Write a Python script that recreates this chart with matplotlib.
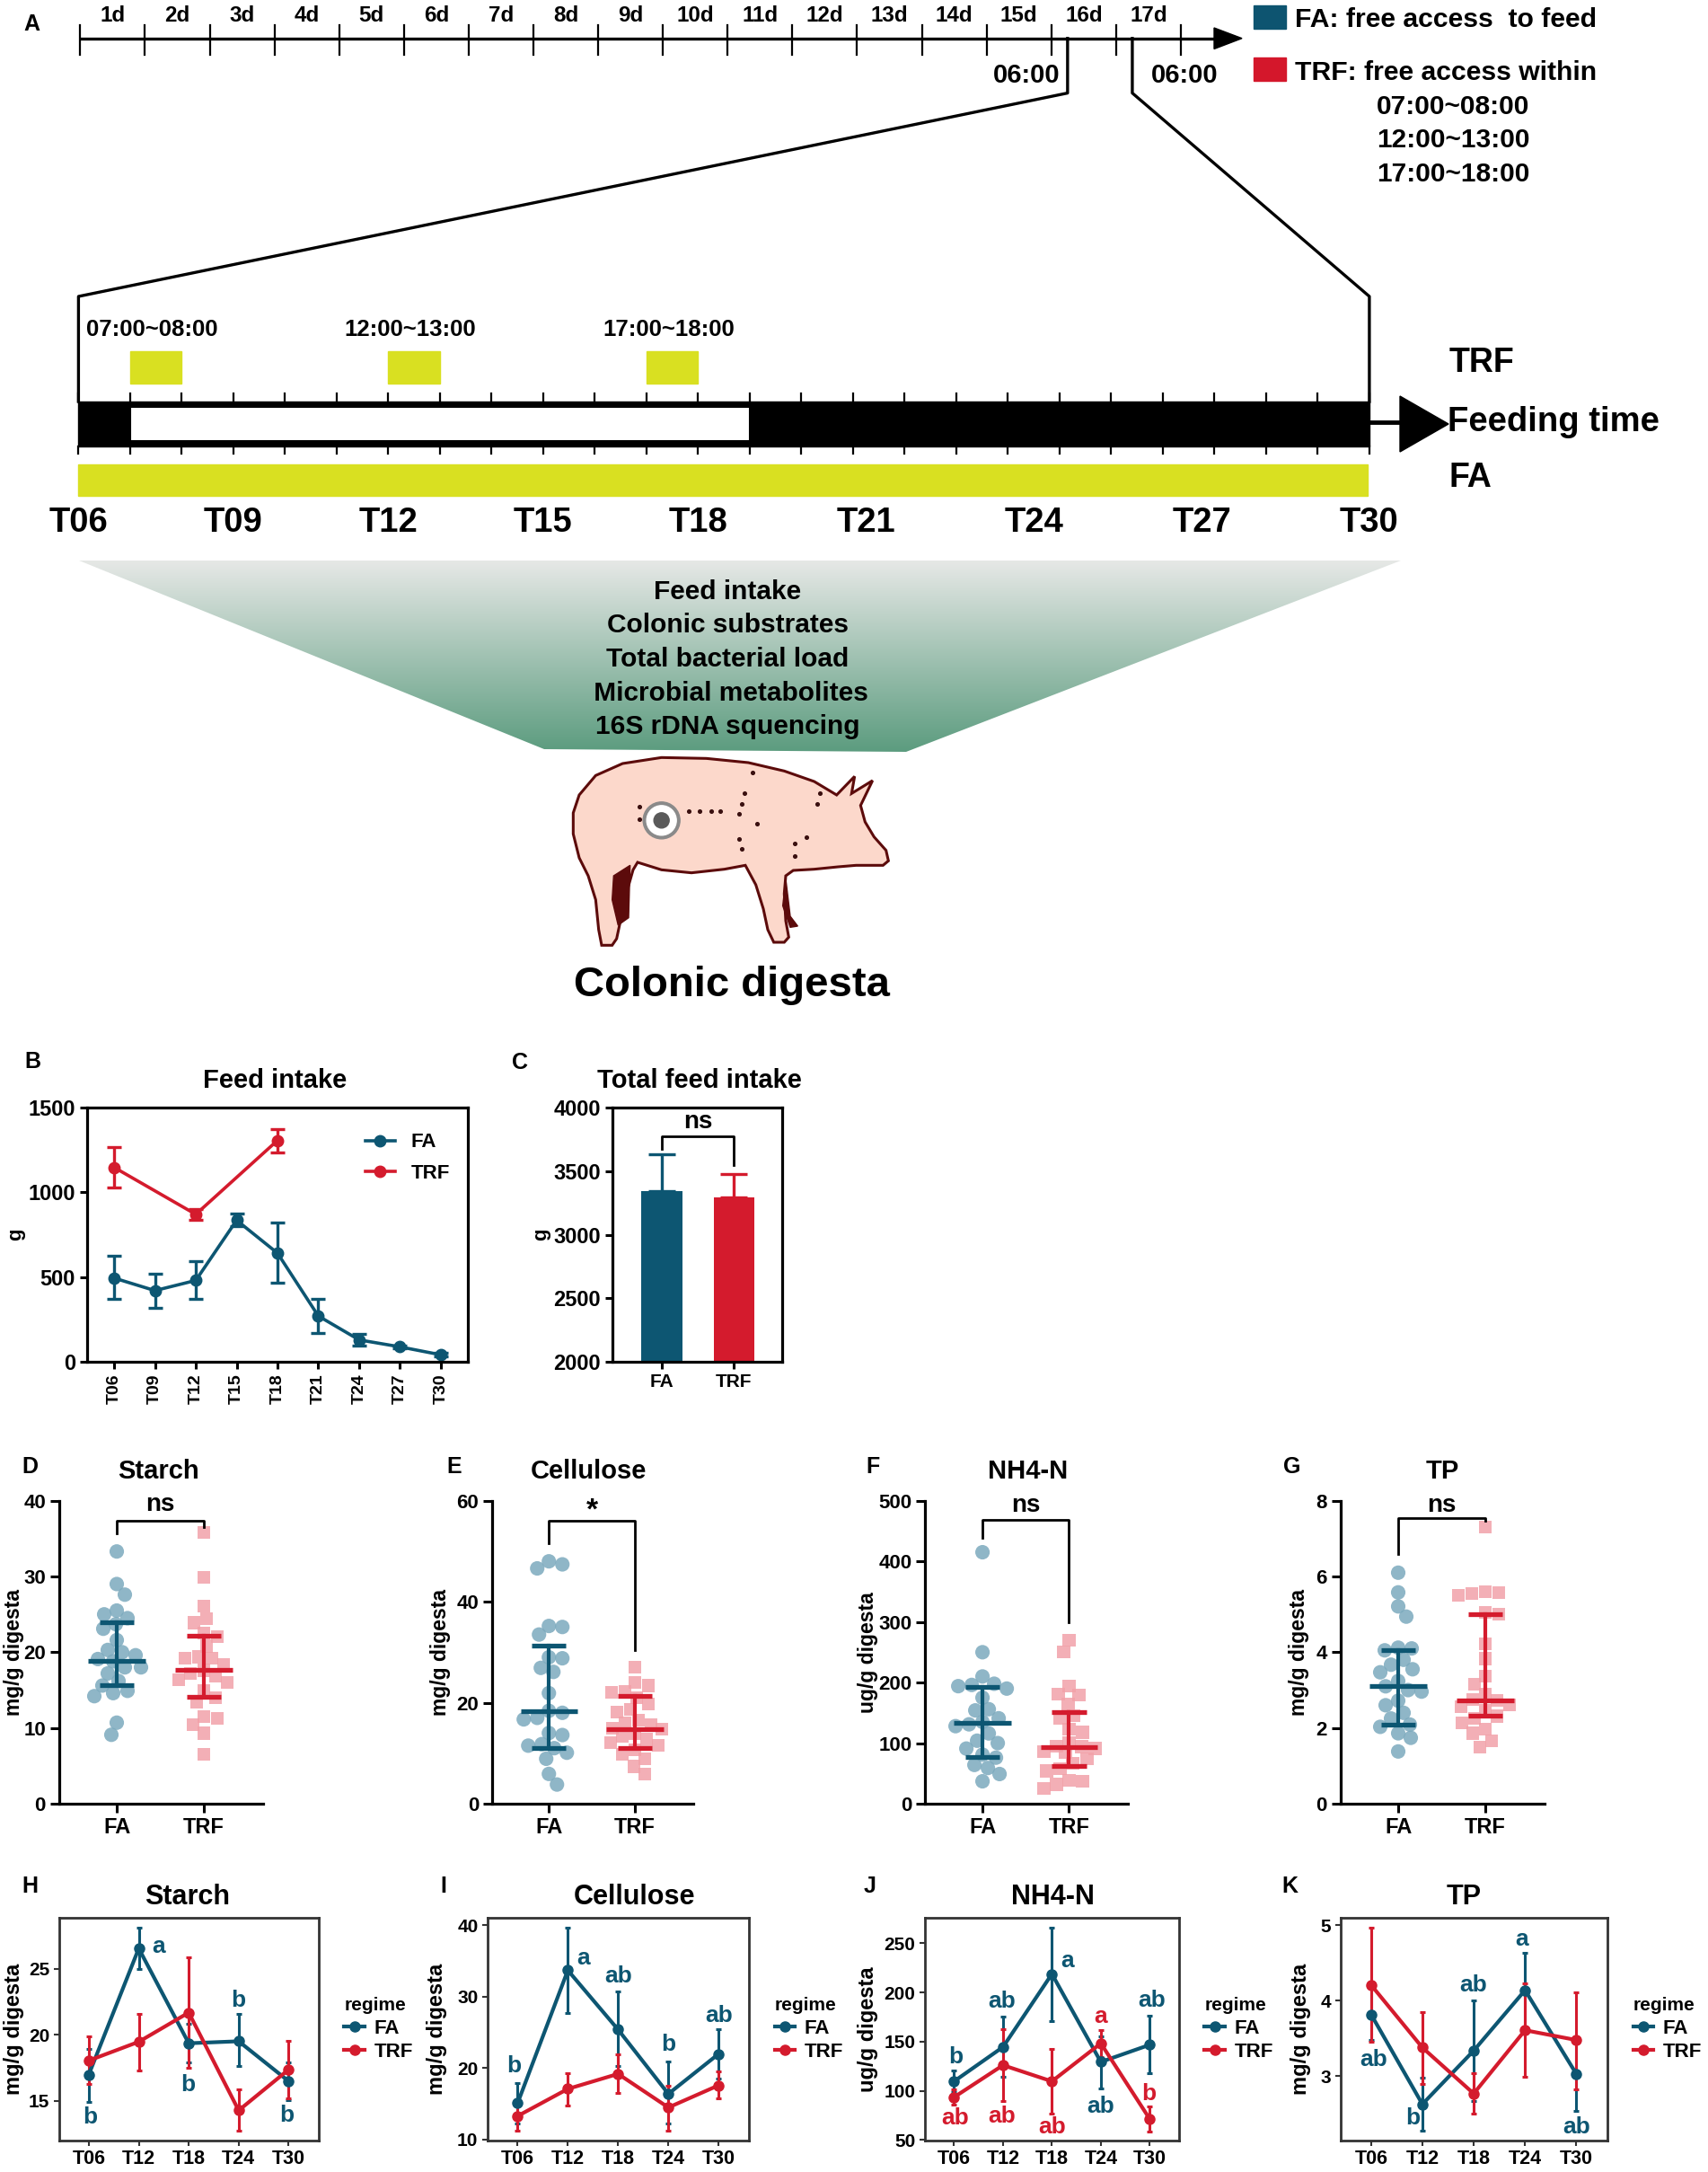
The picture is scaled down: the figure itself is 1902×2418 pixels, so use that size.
import numpy as np
import matplotlib
matplotlib.use("Agg")
import matplotlib.pyplot as plt
from matplotlib.patches import Rectangle, Polygon, Circle
from matplotlib.lines import Line2D

plt.rcParams['font.family'] = ['Liberation Sans', 'DejaVu Sans']
plt.rcParams['font.weight'] = 'bold'
plt.rcParams['axes.labelweight'] = 'bold'
plt.rcParams['axes.titleweight'] = 'bold'

# ---------------- data ----------------
FA_C = '#0d5672'
TRF_C = '#d41b2d'
FA_LIGHT = '#7ba9bd'
TRF_LIGHT = '#f2a1a9'
YEL = '#d9e021'

day_labels = [f'{d}d' for d in range(1, 18)]
trf_windows = [(7, 8), (12, 13), (17, 18)]
light_period = (7, 19)
t_label_hours = [6, 9, 12, 15, 18, 21, 24, 27, 30]
measures = ['Feed intake', 'Colonic substrates', 'Total bacterial load',
            ' Microbial metabolites', '16S rDNA squencing']

# B: feed intake
b_times = ['T06', 'T09', 'T12', 'T15', 'T18', 'T21', 'T24', 'T27', 'T30']
b_fa = [494, 420, 480, 835, 641, 270, 129, 88, 41]
b_fa_lo = [371, 318, 371, 800, 468, 168, 97, 78, 31]
b_fa_hi = [623, 522, 596, 874, 819, 371, 164, 98, 51]
b_trf = [1147, np.nan, 870, np.nan, 1306, np.nan, np.nan, np.nan, np.nan]
b_trf_lo = [1027, np.nan, 835, np.nan, 1237, np.nan, np.nan, np.nan, np.nan]
b_trf_hi = [1269, np.nan, 900, np.nan, 1373, np.nan, np.nan, np.nan, np.nan]

# C: total feed intake
c_groups = ['FA', 'TRF']
c_mean = [3341, 3292]
c_err = [294, 186]

# D-G scatter data
d_fa = [33.3, 29.0, 27.6, 25.5, 25.0, 24.5, 23.7, 23.1, 21.6, 20.3, 20.0, 19.6,
        19.1, 18.8, 18.0, 18.0, 17.2, 16.2, 15.6, 14.9, 14.6, 14.2, 10.7, 9.1]
d_trf = [35.8, 29.9, 26.1, 24.4, 23.9, 22.5, 22.1, 20.8, 19.4, 19.2, 19.2, 18.4,
         17.6, 17.2, 16.8, 16.4, 16.0, 14.9, 14.0, 13.4, 11.5, 11.3, 10.4, 9.3, 6.5]
e_fa = [48.0, 47.4, 46.6, 35.2, 35.0, 33.5, 29.0, 28.8, 26.9, 26.1, 21.9, 18.4,
        18.0, 17.0, 16.7, 14.0, 13.6, 11.8, 11.5, 11.0, 10.1, 8.9, 5.9, 3.8]
e_trf = [27.0, 24.0, 23.4, 22.2, 22.0, 21.0, 19.8, 18.7, 18.1, 16.6, 16.0, 15.7,
         15.0, 14.8, 13.9, 13.3, 12.7, 12.1, 11.5, 10.7, 9.8, 8.9, 7.4, 5.9]
f_fa = [415, 250, 210, 198, 196, 194, 190, 175, 156, 154, 141, 135, 131, 128,
        116, 104, 100, 91, 81, 76, 64, 59, 49, 37]
f_trf = [270, 250, 194, 181, 179, 165, 145, 141, 123, 118, 101, 95, 94, 91, 86,
         85, 74, 67, 58, 54, 39, 37, 32, 25]
g_fa = [6.1, 5.58, 5.21, 4.94, 4.12, 4.10, 4.05, 3.8, 3.67, 3.55, 3.47, 3.24,
        3.1, 3.0, 2.96, 2.72, 2.6, 2.4, 2.25, 2.09, 2.03, 1.86, 1.74, 1.38]
g_trf = [7.3, 5.6, 5.57, 5.55, 5.5, 5.05, 5.0, 4.22, 3.83, 3.36, 3.16, 2.9, 2.76,
         2.72, 2.6, 2.57, 2.47, 2.31, 2.25, 2.13, 1.97, 1.86, 1.66, 1.5]
# median, q1, q3
d_stats = [(18.8, 15.7, 24.0), (17.7, 14.1, 22.2)]
e_stats = [(18.4, 11.1, 31.3), (14.8, 11.1, 21.3)]
f_stats = [(133, 77.5, 192.5), (94, 62, 151.5)]
g_stats = [(3.1, 2.08, 4.06), (2.72, 2.33, 5.0)]
# significance brackets: (left leg bottom, top, right leg bottom, label, label y)
d_sig = (35.7, 37.3, 36.5, 'ns', 39.5)
e_sig = (51.5, 56.0, 30.4, '*', 58.0)
f_sig = (439, 468, 300, 'ns', 492)
g_sig = (6.6, 7.54, 7.46, 'ns', 7.88)
c_sig = (3678, 3772, 3548, 'ns', 3889)

# H-K time courses
hk_times = ['T06', 'T12', 'T18', 'T24', 'T30']
h_fa = [16.99, 26.53, 19.36, 19.51, 16.49]
h_fa_lo = [14.95, 24.95, 17.93, 17.62, 15.07]
h_fa_hi = [18.95, 28.09, 20.82, 21.55, 17.93]
h_trf = [18.05, 19.47, 21.68, 14.28, 17.37]
h_trf_lo = [16.26, 17.32, 17.48, 12.74, 15.18]
h_trf_hi = [19.88, 21.6, 25.84, 15.86, 19.56]

i_fa = [15.1, 33.7, 25.4, 16.4, 22.0]
i_fa_lo = [12.3, 27.7, 20.3, 12.2, 18.6]
i_fa_hi = [17.9, 39.7, 30.7, 20.9, 25.4]
i_trf = [13.3, 17.1, 19.2, 14.5, 17.6]
i_trf_lo = [11.3, 14.8, 16.5, 11.2, 15.8]
i_trf_hi = [14.9, 19.3, 21.9, 17.6, 19.5]

j_fa = [109.6, 144.5, 218.7, 129.3, 146.7]
j_fa_lo = [98.6, 114.1, 171.0, 102.6, 117.8]
j_fa_hi = [120.8, 175.5, 265.8, 155.2, 176.4]
j_trf = [93.5, 126.0, 109.6, 148.2, 71.3]
j_trf_lo = [85.9, 89.5, 76.7, 134.5, 58.5]
j_trf_hi = [101.1, 162.8, 142.7, 161.9, 84.3]

k_fa = [3.82, 2.63, 3.34, 4.14, 3.03]
k_fa_lo = [3.48, 2.28, 2.67, 3.63, 2.54]
k_fa_hi = [4.19, 2.98, 4.01, 4.64, 3.51]
k_trf = [4.21, 3.38, 2.77, 3.61, 3.48]
k_trf_lo = [3.46, 2.90, 2.50, 2.99, 2.83]
k_trf_hi = [4.97, 3.85, 3.04, 4.23, 4.11]

# letters: (regime, x position, y position, text)
h_letters = [('FA', 2.4, 26.7, 'a'), ('FA', 1.02, 13.8, 'b'), ('FA', 2.98, 16.2, 'b'),
             ('FA', 4.0, 22.6, 'b'), ('FA', 4.97, 13.9, 'b')]
i_letters = [('FA', 0.93, 20.3, 'b'), ('FA', 2.3, 35.4, 'a'), ('FA', 3.0, 32.9, 'ab'),
             ('FA', 4.0, 23.3, 'b'), ('FA', 5.0, 27.4, 'ab')]
j_letters = [('FA', 1.03, 134.5, 'b'), ('FA', 1.98, 190.7, 'ab'), ('FA', 3.31, 231.8, 'a'),
             ('FA', 4.0, 84.3, 'ab'), ('FA', 5.05, 192.2, 'ab'),
             ('TRF', 1.03, 72.2, 'ab'), ('TRF', 1.98, 73.7, 'ab'), ('TRF', 3.0, 63.1, 'ab'),
             ('TRF', 4.0, 175.5, 'a'), ('TRF', 4.99, 96.5, 'b')]
k_letters = [('FA', 1.05, 3.22, 'ab'), ('FA', 1.81, 2.45, 'b'), ('FA', 2.99, 4.21, 'ab'),
             ('FA', 3.94, 4.82, 'a'), ('FA', 5.0, 2.33, 'ab')]

# ---------------- figure ----------------
W, H = 1902, 2418
fig = plt.figure(figsize=(W / 100, H / 100), dpi=100)
fig.patch.set_facecolor('white')

ax0 = fig.add_axes([0, 0, 1, 1])
ax0.set_xlim(0, W)
ax0.set_ylim(H, 0)
ax0.axis('off')


def add_ax(l, t, r, b):
    return fig.add_axes([l / W, 1 - b / H, (r - l) / W, (b - t) / H])


def T(x, y, s, fs, ha='center', va='center', color='black', **kw):
    ax0.text(x, y, s, fontsize=fs, ha=ha, va=va, color=color, fontweight='bold', **kw)


def set_ylab(ax, text, fs, x_px, l, r):
    ax.set_ylabel(text, fontsize=fs)
    ax.yaxis.set_label_coords((x_px - l) / (r - l), 0.5)
    ax.yaxis.label.set_verticalalignment('center')


# ---------------- Panel A ----------------
T(35, 27, 'A', 18)
day0, dstep, ly = 89.3, 72.1, 42.7
ticks = [day0 + dstep * k for k in range(len(day_labels) + 1)]
ax0.plot([ticks[0], 1356], [ly, ly], color='black', lw=2.4, solid_capstyle='butt')
ax0.add_patch(Polygon([(1352, 31), (1383, ly), (1352, 54.5)], closed=True, color='black'))
for tx in ticks:
    ax0.plot([tx, tx], [28, 61], color='black', lw=1.6)
for k, lab in enumerate(day_labels):
    T((ticks[k] + ticks[k + 1]) / 2, 18, lab, 17.5)

hx_step = 57.5


def hx(h):
    return 87.4 + (h - 6) * hx_step


xl = ticks[15] + dstep * 6 / 24
xr = ticks[16] + dstep * 6 / 24
bar_top, bar_bot = 447, 497
ax0.plot([xl, xl, hx(6), hx(6)], [ly, 103.6, 330, bar_top], color='black', lw=2.4)
ax0.plot([xr, xr, hx(31), hx(31)], [ly, 103.6, 330, bar_top], color='black', lw=2.4)
T(xl - 46, 84, '06:00', 21)
T(xr + 58, 84, '06:00', 21)

# legend in A
ax0.add_patch(Rectangle((1396, 6), 36, 26, color='#0d5470'))
T(1442, 22, 'FA: free access  to feed', 21.7, ha='left')
ax0.add_patch(Rectangle((1396, 64), 36, 26, color='#d4172b'))
T(1442, 81, 'TRF: free access within', 21.7, ha='left')
for (a, b), yy in zip(trf_windows, [118.6, 155.5, 193.7]):
    T(1618, yy, f'{a:02d}:00~{b:02d}:00', 21.5)

# detailed feeding time bar
ax0.add_patch(Rectangle((hx(6), bar_top), hx(31) - hx(6), bar_bot - bar_top, color='black'))
ax0.add_patch(Rectangle((hx(light_period[0]), 453), hx(light_period[1]) - hx(light_period[0]), 38,
                        facecolor='white', edgecolor='black', lw=1.5))
for h in range(6, 32):
    ax0.plot([hx(h), hx(h)], [438, bar_top], color='black', lw=1.6)
    ax0.plot([hx(h), hx(h)], [bar_bot, 505], color='black', lw=1.6)
ax0.plot([hx(31), 1562], [470, 470], color='black', lw=3.5)
ax0.add_patch(Polygon([(1559, 441), (1613, 472), (1559, 503)], closed=True, color='black'))
for a, b in trf_windows:
    ax0.add_patch(Rectangle((hx(a), 391), hx(b) - hx(a), 36, color=YEL))
    T((hx(a) + hx(b)) / 2 - 4, 367, f'{a:02d}:00~{b:02d}:00', 18.5)
ax0.add_patch(Rectangle((hx(6), 517), hx(31) - hx(6) - 2, 35, color=YEL))
T(1614, 404, 'TRF', 27, ha='left')
T(1612, 470, 'Feeding time', 27.5, ha='left')
T(1614, 532, 'FA', 27, ha='left')
for h in t_label_hours:
    xx = np.interp(h, [6, 18, 30], [hx(6), hx(18), hx(31)])
    T(xx, 582, f'T{h:02d}', 27.5)

# gradient fan
fan = Polygon([(88, 624), (1560, 624), (1009, 837), (606, 834)], closed=True,
              facecolor='none', edgecolor='none')
ax0.add_patch(fan)
c_top = np.array(matplotlib.colors.to_rgb('#e6e8e6'))
c_bot = np.array(matplotlib.colors.to_rgb('#5c9c7f'))
tt = np.linspace(0, 1, 256)[:, None, None]
grad = c_top[None, None, :] * (1 - tt) + c_bot[None, None, :] * tt
im = ax0.imshow(grad, extent=[88, 1560, 837, 624], aspect='auto', origin='upper',
                interpolation='bilinear', zorder=1)
im.set_clip_path(fan)
for k, m in enumerate(measures):
    T(810, 659 + 37.5 * k, m, 21.5, zorder=3)


# pig (illustration)
def pz(pts):
    return [(620 + x / 3, 835 + y / 3) for x, y in pts]


pig_outline = [(75, 150), (130, 85), (220, 45), (350, 25), (500, 28), (640, 42), (760, 70),
               (860, 105), (935, 150), (995, 88), (985, 145), (1055, 102), (1015, 185),
               (1030, 240), (1060, 290), (1100, 335), (1108, 370), (1090, 385), (1050, 385),
               (1000, 385), (940, 390), (860, 398), (790, 402), (765, 420), (760, 480),
               (765, 570), (775, 625), (760, 642), (725, 642), (705, 600), (690, 530),
               (665, 450), (630, 385), (560, 398), (450, 410), (350, 400), (270, 375),
               (255, 400), (235, 470), (215, 560), (200, 630), (185, 652), (150, 652),
               (140, 600), (130, 500), (105, 420), (75, 360), (55, 280), (55, 210)]
ax0.add_patch(Polygon(pz(pig_outline), closed=True, facecolor='#fcd8cb', edgecolor='#5c0b0b',
                      lw=2.2, zorder=2))
ax0.add_patch(Polygon(pz([(190, 420), (245, 385), (240, 560), (205, 585), (185, 500)]),
                      closed=True, color='#5c0b0b', zorder=3))
ax0.add_patch(Polygon(pz([(765, 430), (780, 555), (805, 588), (780, 592), (755, 520)]),
                      closed=True, color='#5c0b0b', zorder=3))
cx, cy = pz([(350, 235)])[0]
ax0.add_patch(Circle((cx, cy), 20.5, color='#8a8a8a', zorder=4))
ax0.add_patch(Circle((cx, cy), 16.5, color='white', zorder=4))
ax0.add_patch(Circle((cx, cy), 8.5, color='#5a5a5a', zorder=4))
dots = [(275, 188), (275, 230), (440, 205), (478, 205), (515, 205), (545, 205), (610, 212),
        (617, 180), (627, 145), (655, 75), (670, 245), (610, 298), (617, 330), (795, 355),
        (795, 312), (835, 290), (870, 180), (878, 145)]
dp = pz(dots)
ax0.scatter([p[0] for p in dp], [p[1] for p in dp], s=7, color='#3a1010', zorder=5)
T(815, 1097, 'Colonic digesta', 34)

# ---------------- Panel B ----------------
axB = add_ax(97, 1233, 521, 1516)
xb = np.arange(len(b_times))
fa = np.array(b_fa, float)
axB.errorbar(xb, fa, yerr=[fa - np.array(b_fa_lo), np.array(b_fa_hi) - fa], color=FA_C,
             marker='o', ms=9, lw=2.6, elinewidth=2.4, capsize=5.5, capthick=2.4)
trf = np.array(b_trf, float)
ok = ~np.isnan(trf)
axB.errorbar(xb[ok], trf[ok], yerr=[trf[ok] - np.array(b_trf_lo)[ok], np.array(b_trf_hi)[ok] - trf[ok]],
             color=TRF_C, marker='o', ms=9, lw=2.6, elinewidth=2.4, capsize=5.5, capthick=2.4)
axB.set_xlim(-0.66, 8.66)
axB.set_ylim(0, 1500)
axB.set_yticks([0, 500, 1000, 1500])
axB.set_xticks(xb)
axB.set_xticklabels(b_times, rotation=90, fontsize=14)
axB.tick_params(axis='y', labelsize=17)
set_ylab(axB, 'g', 16, 18, 97, 521)
bh = [Line2D([], [], color=FA_C, marker='o', ms=9, lw=2.6),
      Line2D([], [], color=TRF_C, marker='o', ms=9, lw=2.6)]
axB.legend(bh, ['FA', 'TRF'], loc='upper right', frameon=False, fontsize=16, handlelength=1.5,
           bbox_to_anchor=(1.0, 0.97), labelspacing=0.6)

# ---------------- Panel C ----------------
axC = add_ax(682, 1233, 871, 1516)
xc = np.arange(len(c_groups))
axC.bar(xc, c_mean, width=0.57, color=[FA_C, TRF_C], zorder=2)
for i in range(2):
    axC.errorbar(xc[i], c_mean[i], yerr=[[0], [c_err[i]]], color=[FA_C, TRF_C][i],
                 capsize=11, elinewidth=2.4, capthick=2.4, zorder=1)
axC.set_xlim(-0.69, 1.67)
axC.set_ylim(2000, 4000)
axC.set_yticks([2000, 2500, 3000, 3500, 4000])
axC.set_xticks(xc)
axC.set_xticklabels(c_groups, fontsize=15)
axC.tick_params(axis='y', labelsize=17)
set_ylab(axC, 'g', 16, 603, 682, 871)
lb, top, rb, lab, laby = c_sig
axC.plot([0, 0, 1, 1], [lb, top, top, rb], color='black', lw=2.0, clip_on=False)
axC.text(0.5, laby, lab, ha='center', va='center', fontsize=20, fontweight='bold')

for ax in (axB, axC):
    for s in ax.spines.values():
        s.set_linewidth(2.3)
    ax.tick_params(direction='out', length=6, width=2.2)

T(36, 1182, 'B', 18)
T(306, 1203, 'Feed intake', 21)
T(579, 1183, 'C', 18)
T(779, 1203, 'Total feed intake', 21)


# ---------------- Panels D-G ----------------
def swarm(vals, ymax, ax_h_px, px_per_unit, d=14.5, max_off=30):
    ypx = np.asarray(vals, float) / ymax * ax_h_px
    order = np.argsort(-ypx, kind='stable')
    cands = [0.0]
    for s in range(1, max_off + 1):
        cands += [float(s), float(-s)] if s % 2 else [float(-s), float(s)]
    placed = []
    offs = np.zeros(len(ypx))
    for i in order:
        best, best_d = 0.0, -1.0
        for c in cands:
            md = min([np.hypot(c - px, ypx[i] - py) for px, py in placed] or [1e9])
            if md >= d:
                best = c
                break
            if md > best_d:
                best, best_d = c, md
        placed.append((best, ypx[i]))
        offs[i] = best
    return offs / px_per_unit


def scatter_panel(l, r, vals_fa, vals_trf, stats, sig, ymax, yticks, ylabel, ylab_px,
                  letter, letter_x, title, title_x):
    t, b = 1670.7, 2008
    ax = add_ax(l, t, r, b)
    fa_x, trf_x = 0, 1
    xmin, xmax = -0.665, 1.68
    ppu = (r - l) / (xmax - xmin)
    ax_h = b - t
    o1 = swarm(vals_fa, ymax, ax_h, ppu)
    o2 = swarm(vals_trf, ymax, ax_h, ppu)
    ax.scatter(fa_x + o1, vals_fa, s=135, marker='o', color=FA_LIGHT, alpha=0.85,
               edgecolors='none', zorder=2, clip_on=False)
    ax.scatter(trf_x + o2, vals_trf, s=105, marker='s', color=TRF_LIGHT, alpha=0.85,
               edgecolors='none', zorder=2, clip_on=False)
    for xx, (med, q1, q3), col in [(fa_x, stats[0], FA_C), (trf_x, stats[1], TRF_C)]:
        ax.plot([xx - 0.33, xx + 0.33], [med, med], color=col, lw=3.8, zorder=3,
                solid_capstyle='butt')
        ax.plot([xx, xx], [q1, q3], color=col, lw=3.0, zorder=3)
        for q in (q1, q3):
            ax.plot([xx - 0.2, xx + 0.2], [q, q], color=col, lw=3.8, zorder=3,
                    solid_capstyle='butt')
    lb, top, rb, lab, laby = sig
    ax.plot([0, 0, 1, 1], [lb, top, top, rb], color='black', lw=2.0, clip_on=False)
    ax.text(0.5, laby, lab, ha='center', va='center', fontsize=20 if lab == 'ns' else 24,
            fontweight='bold', clip_on=False)
    ax.set_xlim(xmin, xmax)
    ax.set_ylim(0, ymax)
    ax.set_yticks(yticks)
    ax.set_xticks([fa_x, trf_x])
    ax.set_xticklabels(['FA', 'TRF'], fontsize=17)
    ax.tick_params(axis='y', labelsize=16)
    ax.tick_params(direction='out', length=7, width=2.2)
    ax.spines['top'].set_visible(False)
    ax.spines['right'].set_visible(False)
    ax.spines['left'].set_linewidth(2.3)
    ax.spines['bottom'].set_linewidth(2.3)
    set_ylab(ax, ylabel, 16.5, ylab_px, l, r)
    T(letter_x, 1633, letter, 18)
    T(title_x, 1638, title, 21)
    return ax


scatter_panel(65.5, 293, d_fa, d_trf, d_stats, d_sig, 40, [0, 10, 20, 30, 40],
              'mg/g digesta', 16, 'D', 33, 'Starch', 176)
scatter_panel(547.6, 772, e_fa, e_trf, e_stats, e_sig, 60, [0, 20, 40, 60],
              'mg/g digesta', 490, 'E', 506, 'Cellulose', 655)
scatter_panel(1030, 1256, f_fa, f_trf, f_stats, f_sig, 500, [0, 100, 200, 300, 400, 500],
              'ug/g digesta', 967, 'F', 972, 'NH4-N', 1145)
scatter_panel(1492.5, 1720, g_fa, g_trf, g_stats, g_sig, 8, [0, 2, 4, 6, 8],
              'mg/g digesta', 1447, 'G', 1439, 'TP', 1606)


# ---------------- Panels H-K ----------------
def line_panel(l, r, fa_m, fa_lo, fa_hi, trf_m, trf_lo, trf_hi, ylim, yticks, ylabel,
               ylab_px, letters, letter, letter_x, title, title_x):
    t, b = 2135, 2383
    ax = add_ax(l, t, r, b)
    x = np.arange(1, len(hk_times) + 1)
    for m, lo, hi, col in [(fa_m, fa_lo, fa_hi, FA_C), (trf_m, trf_lo, trf_hi, TRF_C)]:
        m = np.array(m)
        ax.errorbar(x, m, yerr=[m - np.array(lo), np.array(hi) - m], color=col, marker='o',
                    ms=8, lw=3.0, elinewidth=2.2, capsize=2.5, capthick=2.2)
    for reg, xx, yy, s in letters:
        ax.text(xx, yy, s, color=FA_C if reg == 'FA' else TRF_C, fontsize=19,
                fontweight='bold', ha='center', va='center', clip_on=False)
    ax.set_xlim(0.4, 5.6)
    ax.set_ylim(*ylim)
    ax.set_xticks(x)
    ax.set_xticklabels(hk_times, fontsize=15.5)
    ax.set_yticks(yticks)
    ax.tick_params(axis='y', labelsize=15)
    ax.tick_params(direction='out', length=4, width=1.5, color='#333333')
    for s in ax.spines.values():
        s.set_linewidth(2.0)
        s.set_color('#333333')
    set_ylab(ax, ylabel, 17, ylab_px, l, r)
    handles = [Line2D([], [], color=FA_C, marker='o', ms=8, lw=3),
               Line2D([], [], color=TRF_C, marker='o', ms=8, lw=3)]
    lg = ax.legend(handles, ['FA', 'TRF'], title='regime', loc='center left',
                   bbox_to_anchor=(1.03, 0.5), frameon=False, fontsize=16,
                   title_fontsize=15, handlelength=1.0, handletextpad=0.5,
                   alignment='left', labelspacing=0.25)
    lg.get_title().set_fontweight('bold')
    T(letter_x, 2100, letter, 18)
    T(title_x, 2112, title, 22)
    return ax


line_panel(65.5, 354.8, h_fa, h_fa_lo, h_fa_hi, h_trf, h_trf_lo, h_trf_hi, (12.0, 28.85),
           [15, 20, 25], 'mg/g digesta', 16, h_letters, 'H', 33, 'Starch', 209)
line_panel(542.8, 833.8, i_fa, i_fa_lo, i_fa_hi, i_trf, i_trf_lo, i_trf_hi, (9.87, 41.05),
           [10, 20, 30, 40], 'mg/g digesta', 486, i_letters, 'I', 494, 'Cellulose', 706)
line_panel(1029.8, 1313, j_fa, j_fa_lo, j_fa_hi, j_trf, j_trf_lo, j_trf_hi, (49.4, 275.8),
           [50, 100, 150, 200, 250], 'ug/g digesta', 967, j_letters, 'J', 969, 'NH4-N', 1172)
line_panel(1492.5, 1789.7, k_fa, k_fa_lo, k_fa_hi, k_trf, k_trf_lo, k_trf_hi, (2.148, 5.1),
           [3, 4, 5], 'mg/g digesta', 1449, k_letters, 'K', 1436, 'TP', 1630)

fig.savefig('out.png', dpi=100, facecolor='white')
